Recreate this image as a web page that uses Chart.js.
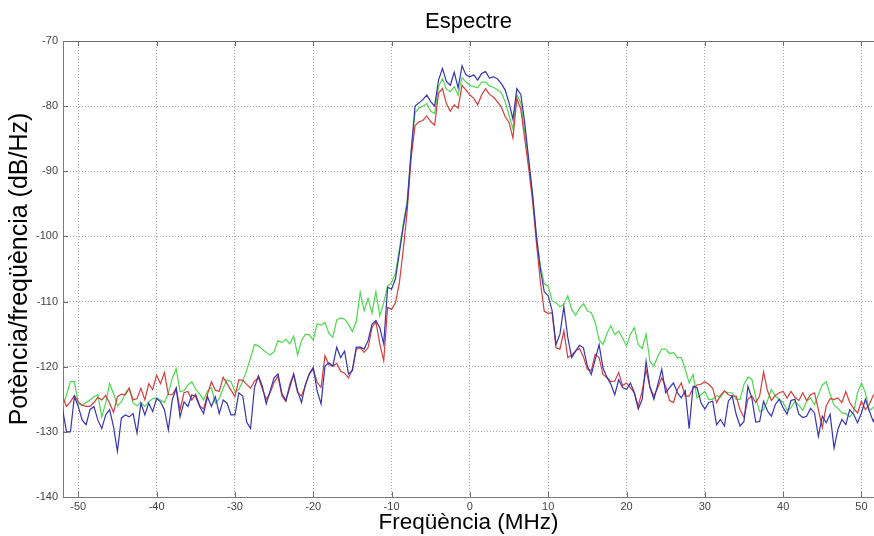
<!DOCTYPE html>
<html lang="ca">
<head>
<meta charset="UTF-8">
<title>Espectre</title>
<script src="https://cdn.jsdelivr.net/npm/chart.js"></script>
<style>
    html, body { margin: 0; padding: 0; background: #ffffff; overflow: hidden; }
</style>
</head>
<body>
<canvas id="espectre" width="874" height="536"></canvas>
<script>
// eix de freqüència: una mostra cada 0.5 MHz, de -52 a 52 MHz
const FREQ_INICI = -52;
const FREQ_PAS = 0.5;
const N_MOSTRES = 209;
const freq = [];
for (let i = 0; i < N_MOSTRES; i++) freq.push(FREQ_INICI + i * FREQ_PAS);

const ticksX = [-50, -40, -30, -20, -10, 0, 10, 20, 30, 40, 50];
const ticksY = [-140, -130, -120, -110, -100, -90, -80, -70];

// densitat espectral de potència (dB/Hz), una fila cada 5 MHz
const potBlau = [
    -126.6, -130, -130, -124.6, -126.1, -128.2, -128.9, -126.6, -126.1, -128.2,
    -129.5, -127.4, -126.6, -129.2, -133, -127.9, -127.4, -127.7, -127.2, -130.2,
    -125.6, -127.4, -125.6, -126.9, -124.9, -125.4, -126.6, -129.7, -125.1, -123.3,
    -127.7, -125.4, -126.1, -124.3, -124.6, -126.1, -127.2, -124.6, -126.1, -124.6,
    -127.2, -125.1, -125.6, -127.4, -127.4, -124, -124.5, -128.5, -129.5, -123.2,
    -121.4, -123, -125.7, -123.7, -121.7, -121.1, -124.1, -125.2, -123.2, -121.1,
    -123.7, -125.5, -122.7, -121.1, -120.1, -123.7, -125.7, -119.9, -119.4, -119.9,
    -117, -118.6, -117.6, -121.1, -120.6, -117, -117, -117.3, -116, -113.5,
    -112.9, -114, -116.5, -107.8, -108.1, -106.5, -102.5, -98.5, -95, -87,
    -80, -79.5, -79, -78.3, -79.3, -80, -76, -74.2, -76.2, -76.8,
    -74.8, -77.2, -73.8, -75.2, -75.5, -75.2, -76, -75, -74.7, -75.7,
    -75.5, -75.8, -76.5, -77.5, -79.5, -82, -77.3, -78.2, -82.5, -88,
    -93.5, -100, -105, -108.5, -109.1, -111.4, -116.6, -115, -110.8, -115.5,
    -118.6, -117.6, -116.7, -117.1, -119.9, -121.2, -118.9, -116.6, -120.2, -121.6,
    -122.7, -124.3, -122, -123.2, -123.5, -122.5, -124, -126.5, -125, -119.2,
    -123.2, -125, -122.7, -120.4, -124, -123.2, -122.5, -124, -124.8, -123.7,
    -129.5, -123, -123.2, -125.5, -126.5, -125.5, -125.3, -128.9, -128.1, -129.1,
    -125.3, -124.5, -127.3, -129.1, -128.4, -123, -124.8, -128.5, -128.4, -125.3,
    -126.8, -127.6, -125.8, -125, -126.3, -127.3, -125.2, -125, -127.3, -127.8,
    -127.6, -126.4, -127.1, -130.7, -127.6, -128.6, -127.3, -132.5, -129.6, -128.1,
    -128.9, -126.6, -127.3, -128.6, -127.1, -125, -126.8, -128.4, -127
];

const potVermell = [
    -124.6, -126.1, -125.4, -124.4, -125.4, -125.9, -126.1, -126.1, -125.5, -124.7,
    -125.1, -124.4, -125.6, -127, -124.6, -124.2, -124.3, -123.3, -125.1, -124.9,
    -123.3, -125.1, -122.6, -123.5, -121.3, -122.6, -120.9, -124.3, -124.3, -123.3,
    -126.6, -124, -123.8, -125.1, -124.2, -126, -126.5, -124.2, -122.3, -123.6,
    -123.8, -121.6, -122.6, -123.6, -124.6, -122, -122.1, -122.7, -123.3, -122.2,
    -121.7, -123.4, -125, -124, -122.4, -121.4, -124.5, -125.3, -122.7, -121.2,
    -124, -124.5, -122.9, -121.1, -120.4, -122.4, -123.2, -118.3, -119.7, -119.9,
    -119.5, -120.7, -121, -121.7, -120.4, -117.3, -117.1, -117.8, -117.1, -114,
    -113.1, -116.5, -119.1, -110.9, -111.2, -110.2, -107.1, -102, -96, -88,
    -83, -82.4, -82.2, -81.5, -82.4, -82.9, -78, -77.3, -79.6, -80.8,
    -79.8, -80.3, -76.8, -77.5, -78.3, -78.8, -79.8, -78.3, -77.3, -78.2,
    -78.6, -79.3, -80.1, -81.6, -82.5, -84.9, -78.8, -80.5, -85, -89.5,
    -94.5, -101, -107, -111.5, -111.8, -111.7, -117.1, -117.3, -114.5, -118.6,
    -118.2, -117.6, -117.2, -118.5, -120.4, -120.6, -118.1, -118.6, -121.2, -121.7,
    -122.3, -122.2, -120.9, -122.9, -122.5, -123.2, -124, -126, -123.7, -120.5,
    -123.2, -124.5, -123.2, -121.7, -123, -125.2, -125.5, -123.5, -122.5, -124.5,
    -124.5, -123.3, -122.8, -122.7, -122.3, -122.7, -123.3, -125.5, -124.4, -123.7,
    -124.3, -124.5, -124.5, -126.6, -127.8, -125, -124.5, -125.5, -124.5, -120.8,
    -123.7, -125.2, -124.4, -124, -123.8, -124.8, -123.8, -124.7, -125.2, -124,
    -125.2, -124.3, -124, -126.6, -129.4, -126, -124.9, -125, -124.8, -125.5,
    -123.8, -125.5, -126.4, -127.1, -125.3, -126.6, -125.8, -124.4, -124
];

const potVerd = [
    -126.1, -124.3, -122.3, -122.3, -125.6, -126, -125.5, -125.1, -124.6, -124.3,
    -127.7, -125.6, -122.6, -124.1, -126, -125.4, -124.1, -123.3, -125.6, -126,
    -125.5, -126.1, -125.4, -124.9, -124.8, -125.1, -125.5, -124.1, -121.8, -120.3,
    -123.8, -123.7, -122.8, -122.3, -123.5, -124.2, -125.1, -123.7, -123.2, -125.6,
    -124.9, -123.3, -122, -122.3, -123.8, -123.5, -122.2, -120.6, -118.6, -116.6,
    -116.8, -117.3, -117.8, -118.2, -117.7, -116, -116.3, -115.8, -116.5, -115.3,
    -118.2, -116, -115, -115.1, -115.9, -113.4, -113.6, -113.2, -114.9, -115.5,
    -112.8, -112.5, -112.7, -113.5, -114.6, -113, -108.6, -111.4, -109.5, -111.8,
    -108.5, -112.2, -110.2, -107.6, -107.1, -105.6, -102, -98, -94.5, -87,
    -81, -80.3, -80, -79.6, -80.8, -81.1, -77, -75.8, -77.4, -77.8,
    -77, -78.3, -75.6, -76.3, -76.8, -77, -77.2, -76.3, -76.3, -76.9,
    -77.1, -77.5, -77.9, -79.3, -81.4, -83.5, -78.2, -79.5, -84, -88.5,
    -93.5, -100, -104.5, -107.3, -107.6, -109.9, -110.2, -110.8, -110.4, -109.1,
    -111.2, -112.1, -111, -110.3, -111.4, -111.7, -113.2, -115.9, -116.6, -114.9,
    -113.7, -115.1, -114.5, -115.6, -116.8, -115, -114, -116.6, -117.2, -115,
    -119.2, -119.9, -118.4, -117.3, -117.3, -118, -117.8, -118.6, -118.6, -120.4,
    -122.5, -121.2, -124.8, -124.3, -123.8, -125, -125, -124.4, -124.7, -123.8,
    -124, -124, -125, -125, -122.7, -121.6, -121.9, -124.7, -126.9, -126.6,
    -125.2, -123.5, -124.5, -125, -125.5, -126.7, -126.3, -125.3, -125.9, -126.7,
    -125.3, -124.8, -125.8, -124.3, -122.8, -122.3, -124.2, -125.9, -126.4, -127.1,
    -127.2, -127.7, -126.9, -124, -122.5, -124, -126.7, -126.3, -125.5
];

const FONT = "'Liberation Sans', Arial, sans-serif";

// marc superior i marques dels eixos cap a dins, com als gràfics de MATLAB
const marcEixos = {
    id: 'marcEixos',
    afterDatasetsDraw(chart) {
        const { ctx, chartArea: a, scales: { x, y } } = chart;
        ctx.save();
        ctx.strokeStyle = '#6e6e6e';
        ctx.lineWidth = 1;
        ctx.beginPath();
        ctx.moveTo(a.left, Math.round(a.top) + 0.5);
        ctx.lineTo(a.right, Math.round(a.top) + 0.5);
        ticksX.forEach(v => {
            const px = Math.round(x.getPixelForValue(v)) + 0.5;
            ctx.moveTo(px, a.bottom);
            ctx.lineTo(px, a.bottom - 5);
            ctx.moveTo(px, a.top);
            ctx.lineTo(px, a.top + 5);
        });
        ticksY.forEach(v => {
            const py = Math.round(y.getPixelForValue(v)) + 0.5;
            ctx.moveTo(a.left, py);
            ctx.lineTo(a.left + 5, py);
        });
        ctx.stroke();
        ctx.restore();
    }
};

const serie = (etiqueta, dades, color) => ({
    label: etiqueta,
    data: dades,
    borderColor: color,
    borderWidth: 1.2,
    pointRadius: 0,
    tension: 0,
    fill: false
});

new Chart(document.getElementById('espectre'), {
    type: 'line',
    data: {
        labels: freq,
        datasets: [
            serie('Senyal 1', potBlau, '#3434b4'),
            serie('Senyal 2', potVermell, '#d93c3c'),
            serie('Senyal 3', potVerd, '#4cd84c')
        ]
    },
    options: {
        responsive: false,
        devicePixelRatio: 1,
        animation: false,
        layout: { padding: 0 },
        plugins: {
            legend: { display: false },
            tooltip: { enabled: false },
            title: {
                display: true,
                fullSize: false,
                text: 'Espectre',
                color: '#000000',
                font: { family: FONT, size: 22, weight: 'normal' },
                padding: { top: 9, bottom: 5.6 }
            }
        },
        scales: {
            x: {
                type: 'linear',
                min: -51.95,
                max: 51.6,
                afterBuildTicks: s => { s.ticks = ticksX.map(v => ({ value: v })); },
                afterFit: s => { s.height = 39; },
                ticks: {
                    color: '#444444',
                    font: { family: FONT, size: 11 },
                    padding: 3,
                    maxRotation: 0,
                    autoSkip: false
                },
                grid: { color: '#a8a8a8', lineWidth: 1, drawTicks: false },
                border: { color: '#7a7a7a', dash: [1, 2] },
                title: {
                    display: true,
                    text: 'Freqüència (MHz)',
                    color: '#000000',
                    font: { family: FONT, size: 22.5 },
                    padding: { top: 0, bottom: 0 }
                }
            },
            y: {
                min: -140,
                max: -70,
                afterBuildTicks: s => { s.ticks = ticksY.map(v => ({ value: v })); },
                afterFit: s => { s.width = 63; },
                ticks: {
                    color: '#444444',
                    font: { family: FONT, size: 11 },
                    padding: 5
                },
                grid: { color: '#a8a8a8', lineWidth: 1, drawTicks: false },
                border: { color: '#7a7a7a', dash: [1, 2] },
                title: {
                    display: true,
                    text: 'Potència/freqüència (dB/Hz)',
                    color: '#000000',
                    font: { family: FONT, size: 25 },
                    padding: { top: 5, bottom: 0 }
                }
            }
        }
    },
    plugins: [marcEixos]
});
</script>
</body>
</html>
